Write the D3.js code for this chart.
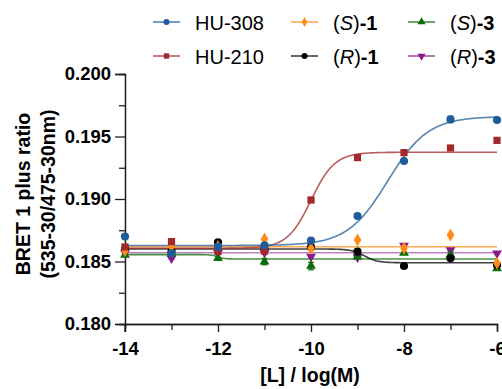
<!DOCTYPE html>
<html><head><meta charset="utf-8">
<script src="https://cdn.jsdelivr.net/npm/d3@7"></script>
<style>
body{margin:0;background:#fff;}
svg{display:block;font-family:"Liberation Sans",Arial,sans-serif;}
</style></head>
<body><svg id="chart" width="502" height="389"></svg>
<script>
// ---- data ----
const logConc = [-14, -13, -12, -11, -10, -9, -8, -7, -6];
const seriesNames = ["HU-308", "HU-210", "(S)-1", "(R)-1", "(S)-3", "(R)-3"];
const hu308 = [0.18700, 0.18566, 0.18619, 0.18630, 0.18667, 0.18864, 0.19304, 0.19637, 0.19632];
const hu308Err = [0.00012, 0.00008, 0.00010, 0.00008, 0.00006, 0.00010, 0.00012, 0.00025, 0.00008];
const hu210 = [0.18616, 0.18659, 0.18579, 0.18584, 0.18992, 0.19331, 0.19371, 0.19408, 0.19469];
const hu210Err = [0.00010, 0.00008, 0.00010, 0.00010, 0.00020, 0.00006, 0.00020, 0.00005, 0.00006];
const s1 = [0.18587, 0.18620, 0.18620, 0.18680, 0.18606, 0.18672, 0.18606, 0.18712, 0.18486];
const s1Err = [0.00005, 0.00005, 0.00005, 0.00008, 0.00005, 0.00005, 0.00010, 0.00012, 0.00008];
const r1 = [0.18600, 0.18580, 0.18654, 0.18600, 0.18615, 0.18579, 0.18464, 0.18526, 0.18472];
const r1Err = [0.00005, 0.00008, 0.00010, 0.00005, 0.00005, 0.00010, 0.00005, 0.00015, 0.00005];
const s3 = [0.18552, 0.18560, 0.18526, 0.18499, 0.18464, 0.18539, 0.18568, 0.18552, 0.18445];
const s3Err = [0.00005, 0.00005, 0.00005, 0.00025, 0.00030, 0.00005, 0.00005, 0.00010, 0.00010];
const r3 = [0.18570, 0.18526, 0.18570, 0.18570, 0.18539, 0.18534, 0.18627, 0.18592, 0.18566];
const r3Err = [0.00005, 0.00005, 0.00005, 0.00005, 0.00005, 0.00005, 0.00008, 0.00010, 0.00005];
// 4-parameter logistic fit parameters: value at low conc, value at high conc, logEC50, hill
const fitLow  = [0.18628, 0.18606, 0.18618, 0.18600, 0.18555, 0.18570];
const fitHigh = [0.19660, 0.19374, 0.18618, 0.18490, 0.18520, 0.18570];
const fitLogEC50 = [-8.35, -10.0, -10.0, -8.85, -12.0, -10.0];
const fitHill   = [1.0, 1.7, 1.0, 3.0, 6.0, 1.0];
const yTicks = [0.180, 0.185, 0.190, 0.195, 0.200];
const yMinor = [0.1825, 0.1875, 0.1925, 0.1975];
const xTicks = [-14, -12, -10, -8, -6];
const xMinor = [-13, -11, -9, -7];

const colors = ["#1f5c99", "#a3282a", "#ff8c1a", "#000000", "#0b6b0b", "#8b1a8b"];
const shapes = [d3.symbolCircle, d3.symbolSquare, d3.symbolDiamond, d3.symbolCircle, d3.symbolTriangle, "tri-down"];
const values = [hu308, hu210, s1, r1, s3, r3];
const errs = [hu308Err, hu210Err, s1Err, r1Err, s3Err, r3Err];

const svg = d3.select("#chart");
const x = d3.scaleLinear().domain([-14, -6]).range([125, 497]);
const y = d3.scaleLinear().domain([0.180, 0.200]).range([324, 74]);

function symPath(i, size) {
  if (shapes[i] === "tri-down") return d3.symbol(d3.symbolTriangle, size)();
  return d3.symbol(shapes[i], size)();
}
function symRot(i){ return shapes[i] === "tri-down" ? " rotate(180)" : ""; }
const symSize = [52, 52, 48, 52, 42, 42];

// ---- axes ----
const yAxis = d3.axisLeft(y).tickValues(yTicks).tickFormat(d3.format(".3f")).tickSize(10).tickPadding(4);
svg.append("g").attr("transform", "translate(125,0)").call(yAxis);
svg.append("g").attr("transform", "translate(125,0)")
  .call(d3.axisLeft(y).tickValues(yMinor).tickFormat("").tickSize(6));
const xAxis = d3.axisBottom(x).tickValues(xTicks).tickFormat(d => d3.format("d")(d).replace("−", "-")).tickSize(8).tickPadding(10);
svg.append("g").attr("transform", "translate(0,324)").call(xAxis);
svg.append("g").attr("transform", "translate(0,324)")
  .call(d3.axisBottom(x).tickValues(xMinor).tickFormat("").tickSize(6));
svg.selectAll(".domain").attr("stroke", "#222").attr("stroke-width", 1.3);
svg.selectAll(".tick line").attr("stroke", "#222").attr("stroke-width", 1.3);
svg.selectAll(".tick text").attr("font-size", 18.5).attr("font-weight", "bold").attr("fill", "#000")
  .attr("font-family", "Liberation Sans, Arial, sans-serif");
svg.append("line").attr("x1", 125).attr("x2", 125).attr("y1", 324).attr("y2", 332).attr("stroke", "#222").attr("stroke-width", 1.3);

// axis titles
svg.append("text").attr("transform", "translate(30,194) rotate(-90)").attr("text-anchor", "middle")
  .attr("font-size", 19.5).attr("font-weight", "bold").text("BRET 1 plus ratio");
svg.append("text").attr("transform", "translate(55,194) rotate(-90)").attr("text-anchor", "middle")
  .attr("font-size", 19.5).attr("font-weight", "bold").text("(535-30/475-30nm)");
svg.append("text").attr("x", 310).attr("y", 382).attr("text-anchor", "middle")
  .attr("font-size", 19.5).attr("font-weight", "bold").text("[L] / log(M)");

// ---- fitted curves ----
const xs = d3.range(0, 401).map(i => -14 + i * 0.02);
const line = d3.line().x(d => x(d[0])).y(d => y(d[1]));
[5, 4, 3, 2, 1, 0].forEach(i => {
  const pts = xs.map(v => [v, fitLow[i] + (fitHigh[i] - fitLow[i]) / (1 + Math.pow(10, (fitLogEC50[i] - v) * fitHill[i]))]);
  svg.append("path").attr("d", line(pts)).attr("fill", "none")
    .attr("stroke", colors[i]).attr("stroke-opacity", i === 5 ? 0.55 : 0.75).attr("stroke-width", 1.6);
});

// ---- points + error bars ----
[5, 4, 3, 2, 1, 0].forEach(i => {
  const g = svg.append("g");
  logConc.forEach((c, k) => {
    const v = values[i][k], e = errs[i][k];
    const cx = x(c);
    g.append("line").attr("x1", cx).attr("x2", cx).attr("y1", y(v - e)).attr("y2", y(v + e))
      .attr("stroke", colors[i]).attr("stroke-width", 1.2);
    [v - e, v + e].forEach(w => g.append("line").attr("x1", cx - 3).attr("x2", cx + 3).attr("y1", y(w)).attr("y2", y(w))
      .attr("stroke", colors[i]).attr("stroke-width", 1.2));
    g.append("path").attr("d", symPath(i, symSize[i]))
      .attr("transform", `translate(${cx},${y(v)})${symRot(i)}`).attr("fill", colors[i]);
  });
});

// ---- legend ----
const legX = [153, 291, 408];
const legY = [22, 56];
const legItems = [
  {i: 0, col: 0, row: 0}, {i: 2, col: 1, row: 0}, {i: 4, col: 2, row: 0},
  {i: 1, col: 0, row: 1}, {i: 3, col: 1, row: 1}, {i: 5, col: 2, row: 1}
];
legItems.forEach(it => {
  const lx = legX[it.col], ly = legY[it.row], i = it.i;
  svg.append("line").attr("x1", lx).attr("x2", lx + 27).attr("y1", ly).attr("y2", ly)
    .attr("stroke", colors[i]).attr("stroke-opacity", 0.6).attr("stroke-width", 2);
  svg.append("path").attr("d", symPath(i, 28)).attr("transform", `translate(${lx + 13.5},${ly})${symRot(i)}`)
    .attr("fill", colors[i]);
  const t = svg.append("text").attr("x", lx + 42).attr("y", ly + 7.5).attr("font-size", 20);
  const m = seriesNames[i].match(/^\((\w)\)-(\d)$/);
  if (m) {
    t.append("tspan").text("(");
    t.append("tspan").attr("font-style", "italic").text(m[1]);
    t.append("tspan").text(")");
    t.append("tspan").attr("font-weight", "bold").text("-" + m[2]);
  } else {
    t.text(seriesNames[i]);
  }
});
</script></body></html>
